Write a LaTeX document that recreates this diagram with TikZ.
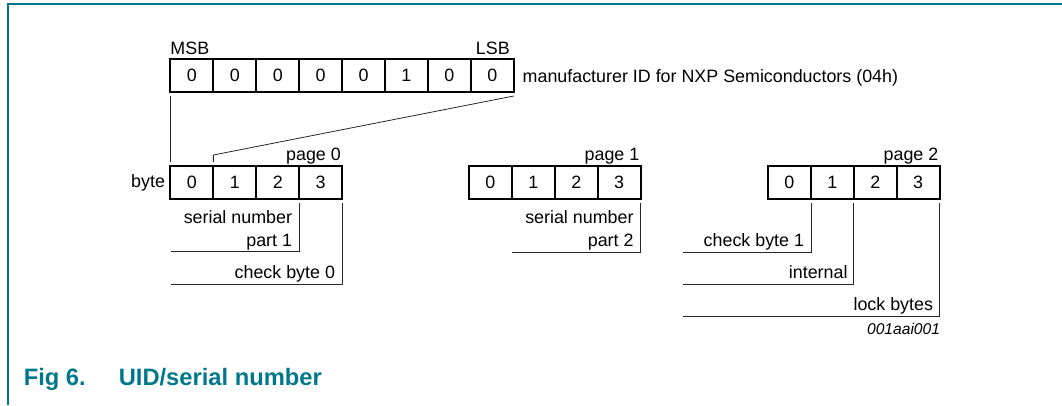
\documentclass[tikz,border=0pt]{standalone}
\usepackage{fontspec}
\setmainfont{Liberation Sans}
\usetikzlibrary{positioning}
\definecolor{nxpteal}{RGB}{0,120,140}

\begin{document}
\begin{tikzpicture}
[x=0.75pt, y=-0.75pt, font=\fontsize{13.4}{17}\selectfont,
% STYLES
% one byte of a register
cell/.style={rectangle, draw, line width=1.5pt, inner sep=0pt, outer sep=0pt, minimum width=32.2pt, minimum height=24.75pt},
lbl/.style={inner sep=0pt, outer sep=0pt},
field/.style={lbl, anchor=base east, align=right},
conn/.style={draw=black!85, line width=0.6pt},
frame/.style={draw=nxpteal, line width=1pt},
caption/.style={inner sep=0pt, anchor=base west, text=nxpteal, font=\fontsize{17.8}{20}\selectfont\bfseries}]

\useasboundingbox (0,0) rectangle (1062,405);

% Frame
\coordinate (frame-corner) at (8,4);
\draw[frame] (8,405) -- (frame-corner) -- (1062,4);

% Manufacturer ID
\foreach \b [count=\i from 0] in {0,0,0,0,0,1,0,0}
  \node[cell] (mfr-\i) at ({191.95+42.9*\i},75.5) {\b};
\node[lbl, anchor=base west] (msb) at ([yshift=3.75pt]mfr-0.north west) {MSB};
\node[lbl, anchor=base east] (lsb) at ([xshift=-3pt, yshift=3.75pt]mfr-7.north east) {LSB};
\node[lbl, anchor=base west] (mfr-desc) at ([xshift=6.75pt, yshift=-4.9pt]mfr-7.east) {manufacturer ID for NXP Semiconductors (04h)};

% Pages
\foreach \p/\x in {0/170.5, 1/469, 2/768}
  \foreach \i in {0,...,3}
    \node[cell] (p\p-\i) at ({\x+21.45+42.9*\i},182.5) {\i};
\foreach \p in {0,1,2}
  \node[lbl, anchor=base east] (page\p) at ([xshift=-1pt, yshift=4.5pt]p\p-3.north east) {page \p};
\node[lbl, anchor=base east] (byte) at ([xshift=-4.1pt, yshift=-4.1pt]p0-0.west) {byte};

%%%%%%%%%%%%%%%%

\draw[conn] ([yshift=-3pt]mfr-0.south west) -- ([yshift=3pt]p0-0.north west);
\draw[conn] ([yshift=-3pt]mfr-7.south east) -- ([yshift=8.25pt]p0-1.north west) -- ([yshift=3pt]p0-1.north west);

% Page 0 fields
\coordinate (sn1-end) at (170.5,251);
\coordinate (cb0-end) at (170.5,284);
\draw[conn] ([yshift=-3pt]p0-2.south east) |- (sn1-end);
\draw[conn] ([yshift=-3pt]p0-3.south east) |- (cb0-end);
\node[field] (sn1) at (292,246.5) {serial number\\part 1};
\node[field] (cb0) at (335,278.5) {check byte 0};

% Page 1 fields
\coordinate (sn2-end) at (511.9,252);
\draw[conn] ([yshift=-3pt]p1-3.south east) |- (sn2-end);
\node[field] (sn2) at (633.5,246.5) {serial number\\part 2};

% Page 2 fields
\coordinate (cb1-end) at (683,252);
\coordinate (int-end) at (683,284);
\coordinate (lock-end) at (683,316);
\draw[conn] ([yshift=-3pt]p2-0.south east) |- (cb1-end);
\draw[conn] ([yshift=-3pt]p2-1.south east) |- (int-end);
\draw[conn] ([yshift=-3pt]p2-3.south east) |- (lock-end);
\node[field] (cb1) at (804,246.5) {check byte 1};
\node[field] (int) at (847.5,278.5) {internal};
\node[field] (lock) at (933,310.5) {lock bytes};

\node[lbl, anchor=base east, font=\fontsize{11.7}{14}\selectfont\itshape] (code) at (940,334) {001aai001};

% Caption
\node[caption] (fig-num) at (23.5,385) {Fig 6.};
\node[caption] (fig-title) at (118.5,385) {UID/serial number};

\end{tikzpicture}
\end{document}
